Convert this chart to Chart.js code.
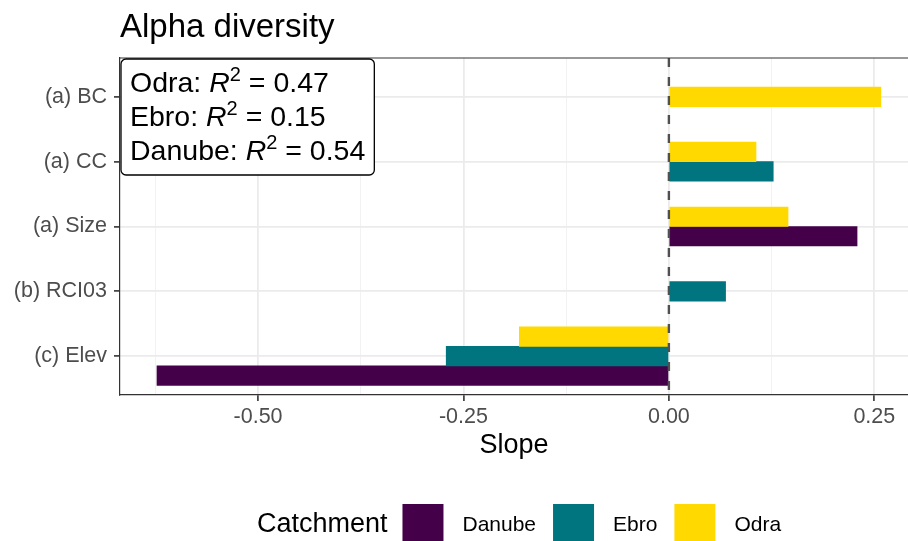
<!DOCTYPE html>
<html>
<head>
<meta charset="utf-8">
<title>Alpha diversity</title>
<script src="https://cdn.jsdelivr.net/npm/chart.js@4.4.1/dist/chart.umd.min.js"></script>
<style>
  html, body { margin: 0; padding: 0; background: #fff; }
  #wrap { width: 908px; height: 541px; }
</style>
</head>
<body>
<div id="wrap"><canvas id="chart" width="908" height="541"></canvas></div>
<script>
const categories = ['(a) BC', '(a) CC', '(a) Size', '(b) RCI03', '(c) Elev'];
// slope per catchment, null where the predictor is not in that model
const odra = [0.258, 0.106, 0.145, null, -0.182];
const ebro = [null, 0.127, null, 0.069, -0.271];
const danube = [null, null, 0.229, null, -0.623];

const catchments = ['Danube', 'Ebro', 'Odra'];
const colors = { Danube: '#45004a', Ebro: '#007580', Odra: '#ffd900' };

const r2Names = ['Odra', 'Ebro', 'Danube'];
const r2Values = ['0.47', '0.15', '0.54'];

const xMajor = [-0.5, -0.25, 0, 0.25];
const xMajorLabels = ['-0.50', '-0.25', '0.00', '0.25'];
const xMinor = [-0.625, -0.375, -0.125, 0.125];
const xLimits = [-0.668, 0.291];

const FONT = '"Liberation Sans", Arial, Helvetica, sans-serif';
const isMajor = (v) => xMajor.some((m) => Math.abs(m - v) < 1e-9);
const toPoints = (vals) => vals.map((v, i) => ({ x: v, y: i + 1 }));

const decor = {
  id: 'decor',
  afterDatasetsDraw(chart) {
    const { ctx, chartArea: a, scales: { x } } = chart;
    const zx = x.getPixelForValue(0);
    ctx.save();
    ctx.strokeStyle = '#505050';
    ctx.lineWidth = 2.4;
    ctx.setLineDash([9, 10]);
    ctx.beginPath();
    ctx.moveTo(zx, a.top);
    ctx.lineTo(zx, a.bottom);
    ctx.stroke();
    ctx.restore();
  },
  afterDraw(chart) {
    const { ctx, chartArea: a } = chart;
    ctx.save();

    // top of panel border
    ctx.strokeStyle = '#333';
    ctx.lineWidth = 1.2;
    ctx.beginPath();
    ctx.moveTo(a.left, a.top);
    ctx.lineTo(a.right, a.top);
    ctx.stroke();

    // plot title
    ctx.fillStyle = '#000';
    ctx.textAlign = 'left';
    ctx.textBaseline = 'alphabetic';
    ctx.font = `33px ${FONT}`;
    ctx.fillText('Alpha diversity', a.left, 37);

    // R2 label box
    const normal = `28.5px ${FONT}`;
    const italic = `italic 28.5px ${FONT}`;
    const sup = `20px ${FONT}`;
    const lines = r2Names.map((n, i) => [
      [n + ': ', normal, 0],
      ['R', italic, 0],
      ['2', sup, -11],
      [' = ' + r2Values[i], normal, 0],
    ]);
    const widthOf = (segs) => segs.reduce((w, [t, f]) => { ctx.font = f; return w + ctx.measureText(t).width; }, 0);
    const pad = 9, lh = 34;
    const boxW = Math.max(...lines.map(widthOf)) + pad * 2;
    const boxH = lh * lines.length + 14;
    const bx = a.left + 1, by = a.top + 1;
    ctx.beginPath();
    ctx.roundRect(bx, by, boxW, boxH, 5);
    ctx.fillStyle = '#fff';
    ctx.fill();
    ctx.strokeStyle = '#000';
    ctx.lineWidth = 1.3;
    ctx.stroke();
    ctx.fillStyle = '#000';
    lines.forEach((segs, i) => {
      let tx = bx + pad;
      const base = by + 33 + i * lh;
      segs.forEach(([t, f, dy]) => {
        ctx.font = f;
        ctx.fillText(t, tx, base + dy);
        tx += ctx.measureText(t).width;
      });
    });

    // legend at bottom
    const titleFont = `27px ${FONT}`;
    const labFont = `21px ${FONT}`;
    const key = 41;
    ctx.font = titleFont;
    const titleW = ctx.measureText('Catchment').width;
    ctx.font = labFont;
    const labW = catchments.map((c) => ctx.measureText(c).width);
    const total = titleW + 15 + labW.reduce((s, w) => s + key + 19 + w, 0) + 17 * (catchments.length - 1);
    let lx = (a.left + a.right) / 2 + 5 - total / 2;
    const keyTop = 504, base = 531;
    ctx.font = titleFont;
    ctx.fillText('Catchment', lx, base + 1);
    lx += titleW + 15;
    catchments.forEach((c, i) => {
      ctx.fillStyle = colors[c];
      ctx.fillRect(lx, keyTop, key, key);
      lx += key + 19;
      ctx.fillStyle = '#000';
      ctx.font = labFont;
      ctx.fillText(c, lx, base);
      lx += labW[i] + 17;
    });

    ctx.restore();
  },
};

new Chart(document.getElementById('chart'), {
  type: 'bar',
  data: {
    datasets: [
      { label: 'Odra', data: toPoints(odra), backgroundColor: colors.Odra },
      { label: 'Ebro', data: toPoints(ebro), backgroundColor: colors.Ebro },
      { label: 'Danube', data: toPoints(danube), backgroundColor: colors.Danube },
    ],
  },
  options: {
    indexAxis: 'y',
    responsive: false,
    animation: false,
    skipNull: true,
    barThickness: 19.5,
    layout: { padding: { top: 58, bottom: 76, left: 0, right: 0 } },
    plugins: {
      legend: { display: false },
      tooltip: { enabled: false },
    },
    scales: {
      x: {
        type: 'linear',
        min: xLimits[0],
        max: xLimits[1],
        afterBuildTicks: (scale) => {
          scale.ticks = [...xMajor, ...xMinor].sort((p, q) => p - q).map((v) => ({ value: v }));
        },
        afterFit: (scale) => { scale.height = 70; },
        ticks: {
          autoSkip: false,
          maxRotation: 0,
          padding: 3,
          color: '#4d4d4d',
          font: { family: FONT, size: 21.5 },
          callback: (v) => {
            const i = xMajor.findIndex((m) => Math.abs(m - v) < 1e-9);
            return i >= 0 ? xMajorLabels[i] : '';
          },
        },
        grid: {
          color: (c) => (c.tick && isMajor(c.tick.value) ? '#ebebeb' : '#f2f2f2'),
          lineWidth: (c) => (c.tick && isMajor(c.tick.value) ? 1.8 : 1),
          tickColor: (c) => (c.tick && isMajor(c.tick.value) ? '#333' : 'rgba(0,0,0,0)'),
          tickLength: 6,
          tickWidth: 1.6,
        },
        border: { color: '#333', width: 1.2 },
        title: {
          display: true,
          text: 'Slope',
          color: '#000',
          font: { family: FONT, size: 27 },
          padding: { top: 0, bottom: 3 },
        },
      },
      y: {
        type: 'linear',
        reverse: true,
        offset: false,
        min: 0.4,
        max: 5.6,
        afterBuildTicks: (scale) => {
          scale.ticks = categories.map((c, i) => ({ value: i + 1 }));
        },
        afterFit: (scale) => { scale.width = 120; },
        ticks: {
          autoSkip: false,
          padding: 7,
          color: '#4d4d4d',
          font: { family: FONT, size: 21.5 },
          callback: (v) => categories[v - 1] ?? '',
        },
        grid: {
          offset: false,
          color: '#ebebeb',
          lineWidth: 1.8,
          tickColor: '#333',
          tickLength: 6,
          tickWidth: 1.6,
        },
        border: { color: '#333', width: 1.2 },
      },
    },
  },
  plugins: [decor],
});
</script>
</body>
</html>
